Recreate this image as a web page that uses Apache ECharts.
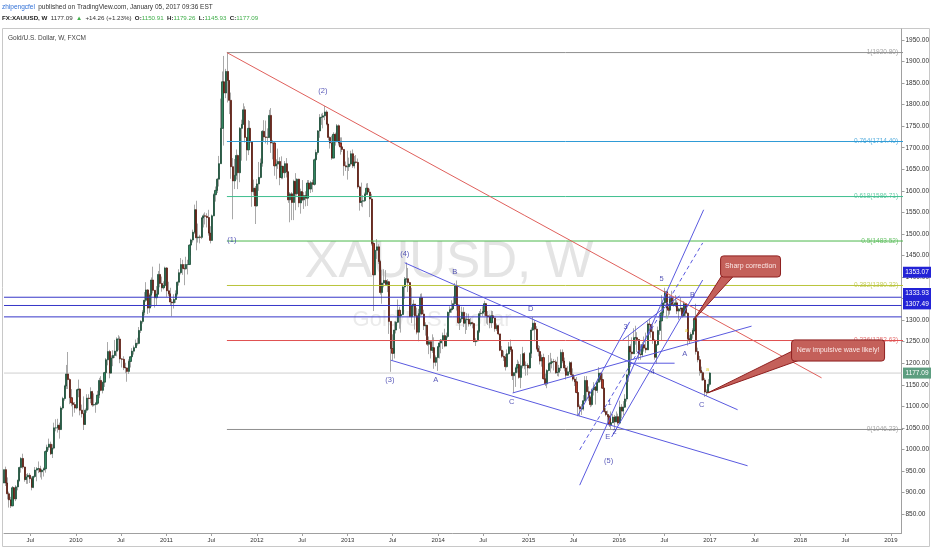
<!DOCTYPE html>
<html><head><meta charset="utf-8">
<script src="https://cdn.jsdelivr.net/npm/echarts@6/dist/echarts.min.js"></script>
<style>html,body{margin:0;padding:0;background:#fff}#c{width:932px;height:550px}</style>
</head><body><div id="c"></div>
<script>
// ---------- DATA (weekly FX:XAUUSD bars, first week starting 2009-03-16) ----------
const firstWeek = [2009, 2, 16];
const firstOpen = 922;
const closes = [
// 2009
953,922,897,883,869,911,885,913,928,958,979,959,930,936,940,932,912,937,952,955,955,948,952,955,995,1005,1012,990,1003,1050,1050,1056,1046,1096,1118,1147,1175,1162,1120,1108,1104,1096,
// 2010
1138,1140,1091,1083,1058,1091,1119,1118,1134,1103,1104,1107,1126,1160,1137,1156,1178,1208,1227,1177,1212,1218,1228,1256,1256,1210,1209,1190,1189,1181,1204,1215,1228,1236,1246,1246,1276,1297,1318,1346,1370,1328,1358,1393,1369,1352,1360,1406,1385,1375,1380,1421,
// 2011
1368,1361,1342,1340,1348,1361,1388,1410,1429,1420,1419,1429,1429,1474,1486,1504,1556,1491,1493,1492,1537,1542,1541,1538,1502,1485,1542,1591,1601,1627,1663,1745,1853,1827,1877,1856,1810,1656,1623,1636,1682,1642,1745,1754,1788,1724,1695,1745,1713,1598,1606,1565,
// 2012
1616,1631,1664,1738,1725,1724,1724,1775,1711,1711,1658,1662,1668,1631,1657,1642,1663,1644,1579,1593,1573,1622,1593,1627,1572,1598,1579,1589,1583,1618,1604,1619,1615,1672,1689,1739,1770,1771,1774,1783,1755,1724,1711,1676,1731,1714,1751,1711,1702,1696,1658,1656,1656,
// 2013
1662,1686,1658,1667,1666,1609,1573,1576,1577,1592,1606,1597,1581,1478,1405,1462,1470,1436,1364,1386,1392,1383,1389,1297,1234,1223,1277,1295,1323,1310,1313,1377,1395,1396,1387,1308,1333,1337,1310,1272,1315,1352,1314,1287,1288,1244,1250,1230,1236,1202,1213,1238,
// 2014
1247,1254,1264,1240,1262,1318,1324,1326,1338,1379,1335,1294,1303,1318,1293,1301,1302,1291,1294,1292,1250,1252,1274,1315,1316,1320,1338,1310,1308,1294,1310,1305,1280,1287,1268,1230,1216,1214,1192,1222,1238,1231,1171,1178,1189,1197,1167,1194,1222,1195,1195,1189,
// 2015
1223,1277,1293,1279,1234,1227,1205,1213,1164,1152,1183,1199,1201,1204,1203,1178,1179,1189,1225,1205,1189,1172,1180,1201,1173,1163,1157,1132,1099,1094,1094,1113,1160,1134,1121,1104,1138,1145,1137,1156,1177,1162,1142,1088,1081,1076,1057,1062,1075,1064,1076,1061,
// 2016
1098,1089,1098,1117,1173,1239,1226,1222,1259,1259,1255,1221,1220,1243,1235,1231,1291,1290,1273,1253,1214,1243,1276,1298,1317,1340,1366,1328,1323,1351,1336,1336,1340,1321,1326,1328,1310,1338,1316,1257,1252,1267,1276,1304,1227,1208,1183,1178,1161,1133,1132,1150.91,
// 2017
1177.09
];
const highs = [
// 2009
963,960,935,902,890,915,913,917,930,960,982,990,960,943,945,945,937,939,959,959,972,962,955,958,998,1011,1025,1018,1012,1062,1070,1071,1062,1100,1122,1150,1196,1226,1165,1140,1112,1110,
// 2010
1140,1162,1142,1104,1123,1095,1128,1128,1144,1136,1130,1110,1136,1166,1170,1157,1180,1212,1249,1231,1218,1230,1254,1260,1265,1262,1212,1216,1201,1190,1209,1216,1235,1241,1255,1259,1284,1300,1323,1365,1388,1372,1362,1399,1424,1370,1379,1414,1431,1401,1390,1424,
// 2011
1423,1389,1375,1349,1360,1369,1390,1418,1444,1440,1430,1447,1440,1476,1489,1510,1568,1577,1524,1498,1539,1547,1550,1548,1556,1518,1545,1594,1610,1630,1681,1814,1877,1913,1883,1920.8,1850,1828,1676,1674,1696,1684,1748,1765,1803,1796,1717,1764,1762,1713,1626,1611,
// 2012
1627,1667,1675,1741,1764,1763,1745,1788,1792,1718,1714,1673,1698,1678,1680,1653,1669,1676,1645,1597,1597,1626,1641,1629,1628,1605,1625,1597,1599,1625,1625,1623,1626,1675,1696,1741,1778,1779,1781,1797,1787,1755,1726,1728,1736,1735,1755,1754,1724,1724,1697,1668,1693,
// 2013
1677,1693,1696,1681,1683,1675,1612,1619,1590,1596,1617,1618,1605,1593,1484,1478,1488,1476,1440,1417,1418,1416,1395,1391,1297,1267,1297,1298,1348,1331,1318,1380,1400,1434,1421,1389,1375,1347,1337,1329,1326,1361,1362,1324,1295,1285,1262,1251,1267,1260,1218,1240,
// 2014
1254,1256,1271,1280,1271,1320,1332,1346,1355,1386,1392,1335,1306,1331,1330,1306,1316,1315,1305,1296,1294,1258,1277,1321,1326,1332,1345,1338,1321,1313,1322,1321,1304,1292,1289,1267,1240,1229,1221,1232,1249,1255,1232,1178,1192,1208,1204,1221,1238,1226,1204,1200,
// 2015
1225,1283,1307,1300,1286,1242,1240,1220,1222,1176,1186,1219,1224,1211,1210,1208,1215,1196,1232,1232,1213,1196,1193,1205,1204,1188,1170,1168,1131,1104,1105,1126,1170,1170,1146,1125,1141,1156,1147,1164,1191,1178,1177,1143,1096,1090,1080,1088,1082,1080,1088,1083,
// 2016
1113,1105,1112,1128,1174,1263,1244,1260,1281,1287,1272,1252,1244,1249,1262,1271,1297,1304,1290,1290,1256,1244,1285,1316,1358,1341,1375,1368,1338,1357,1368,1353,1358,1346,1329,1352,1329,1344,1339,1318,1265,1272,1281,1308,1338,1236,1217,1192,1181,1166,1139,1163,
// 2017
1179.26
];
const lows = [
// 2009
887,915,884,865,864,868,880,880,905,925,946,955,925,920,920,922,905,910,934,926,945,935,930,937,946,988,998,987,980,1000,1042,1039,1025,1045,1092,1113,1140,1140,1105,1100,1076,1085,
// 2010
1093,1121,1079,1074,1045,1057,1085,1092,1107,1099,1100,1085,1103,1119,1135,1130,1145,1164,1195,1165,1185,1193,1212,1216,1230,1200,1190,1184,1177,1157,1175,1190,1214,1220,1236,1241,1244,1270,1292,1311,1342,1314,1317,1331,1362,1329,1334,1362,1376,1366,1371,1375,
// 2011
1354,1356,1334,1309,1327,1340,1357,1380,1406,1405,1381,1417,1406,1428,1450,1480,1500,1462,1480,1478,1488,1515,1522,1515,1496,1478,1484,1541,1575,1595,1610,1688,1756,1705,1815,1805,1778,1628,1534,1604,1626,1604,1620,1670,1755,1712,1670,1683,1700,1563,1589,1523,
// 2012
1563,1600,1629,1656,1716,1710,1707,1722,1688,1673,1635,1627,1651,1613,1627,1627,1630,1631,1572,1527,1532,1532,1555,1589,1562,1547,1576,1558,1564,1565,1584,1595,1597,1612,1647,1684,1723,1753,1745,1764,1752,1717,1698,1672,1679,1705,1713,1705,1684,1690,1635,1646,1626,
// 2013
1646,1657,1653,1652,1663,1605,1554,1564,1562,1574,1591,1590,1539,1473,1321,1405,1442,1430,1359,1338,1376,1381,1365,1268,1180,1207,1211,1269,1293,1280,1271,1314,1349,1387,1365,1307,1293,1311,1278,1267,1251,1310,1311,1277,1264,1240,1221,1211,1224,1187,1193,1182,
// 2014
1211,1223,1233,1237,1239,1258,1310,1317,1331,1335,1322,1291,1277,1296,1284,1268,1277,1285,1286,1281,1249,1240,1250,1270,1308,1309,1310,1292,1289,1281,1282,1293,1273,1275,1265,1228,1212,1205,1183,1190,1220,1226,1161,1131,1145,1178,1164,1142,1188,1186,1171,1172,
// 2015
1187,1212,1275,1251,1230,1216,1197,1192,1162,1147,1142,1181,1178,1188,1183,1175,1170,1169,1182,1200,1181,1162,1171,1175,1168,1158,1147,1130,1077,1077,1080,1090,1111,1117,1112,1098,1100,1125,1104,1131,1155,1157,1140,1085,1077,1062,1052,1046.23,1061,1046.5,1063,1057,
// 2016
1061,1072,1079,1096,1111,1157,1191,1208,1226,1243,1226,1208,1208,1214,1227,1224,1235,1266,1259,1245,1208,1199,1240,1266,1252,1310,1334,1309,1310,1313,1334,1331,1330,1314,1301,1320,1306,1308,1309,1241,1247,1252,1257,1273,1220,1202,1171,1160,1159,1122,1124,1132,
// 2017
1145.93
];

// Fibonacci retracement drawn from the 2011 high
const fibRatios = ['1', '0.764', '0.618', '0.5', '0.382', '0.236', '0'];
const fibPrices = [1920.80, 1714.40, 1586.71, 1483.52, 1380.32, 1252.63, 1046.23];
const fibStartYear = 2011.667;

// Horizontal levels
const levelPrices = [1353.07, 1333.93, 1307.49];
const lastPrice = 1177.09;

// Trend lines [year1, price1, year2, price2]
const redLine = [2011.667, 1920.8, 2018.234, 1166];
const blueLines = [
  [2013.631, 1433, 2017.307, 1092],
  [2013.477, 1207, 2017.417, 962],
  [2014.823, 1131, 2017.461, 1286],
  [2016.115, 1200, 2016.611, 1200],
  [2015.563, 917, 2016.932, 1556],
  [2015.916, 1029, 2016.921, 1393],
  [2015.541, 1078, 2016.115, 1296],
  [2016.037, 1254, 2016.666, 1356]
];
const dashedLine = [2015.563, 999, 2016.921, 1479];

// Elliott wave labels [text, year, price]
const waveLabels = [
  ['(1)', 2011.722, 1486], ['(2)', 2012.726, 1832], ['(3)', 2013.466, 1161], ['(4)', 2013.631, 1453], ['(5)', 2015.883, 973],
  ['A', 2013.974, 1161], ['B', 2014.183, 1412], ['C', 2014.812, 1110], ['D', 2015.022, 1326], ['E', 2015.872, 1029],
  ['1', 2015.894, 1108], ['2', 2015.949, 1040], ['3', 2016.07, 1284], ['4', 2016.369, 1180], ['5', 2016.468, 1395],
  ['A', 2016.722, 1221], ['B', 2016.81, 1358], ['C', 2016.91, 1103]
];
const tinyLabels = [['a', 2016.744, 1275, '#d9c400'], ['a', 2016.976, 1186, '#d9c400'], ['ii', 2016.524, 1305, '#7cc35a']];

// Callouts [text, boxYear1, boxPrice1, boxYear2, boxPrice2, tipYear, tipPrice]
const callouts = [
  ['Sharp correction', 2017.119, 1449, 2017.781, 1400, 2016.821, 1300],
  ['New impulsive wave likely!', 2017.903, 1254, 2018.93, 1205, 2016.976, 1131]
];

const yTicks = [850,900,950,1000,1050,1100,1150,1200,1250,1300,1350,1400,1450,1500,1550,1600,1650,1700,1750,1800,1850,1900,1950];

// ---------- CHART ----------
const DAY = 864e5;
const yr = v => Date.UTC(2010, 0, 1) + (v - 2010) * 365.25 * DAY;
const week0 = Date.UTC(firstWeek[0], firstWeek[1], firstWeek[2]);
const X0 = yr(2009.2053), X1 = yr(2019.117);
const FONT = 'Liberation Sans, Arial, sans-serif';

const wickData = [], bodyData = [];
closes.forEach((c, i) => {
  const o = i === 0 ? firstOpen : closes[i - 1];
  const t = week0 + i * 7 * DAY;
  const h = Math.max(highs[i], o, c), l = Math.min(lows[i], o, c);
  wickData.push([t, o, c, l, h]);
  bodyData.push([t, o, c, Math.min(o, c), Math.max(o, c)]);
});

const xTicks = [];
for (let y = 2009; y <= 2019; y++) {
  [Date.UTC(y, 0, 1), Date.UTC(y, 6, 1)].forEach(t => { if (t >= X0 && t <= X1) xTicks.push(t); });
}

const seg = (arr, color, type, z) => ({
  type: 'line', silent: true, symbol: 'none', z: z || 4, animation: false,
  data: [[yr(arr[0]), arr[1]], [yr(arr[2]), arr[3]]],
  lineStyle: { color, width: 1, type: type || 'solid' }
});

const series = [];
series.push({ type: 'line', silent: true, symbol: 'none', z: 1, data: [[X0, lastPrice], [X1, lastPrice]], lineStyle: { color: '#cfcfcf', width: 1 } });
series.push({
  type: 'candlestick', z: 2, barWidth: 0.4, encode: { x: 0, y: [1, 2, 3, 4] }, data: wickData, silent: true,
  itemStyle: { color: '#a9a9a9', color0: '#a9a9a9', borderColor: '#a9a9a9', borderColor0: '#a9a9a9', borderWidth: 1 }
});
series.push({
  type: 'candlestick', z: 3, barWidth: 1.6, encode: { x: 0, y: [1, 2, 3, 4] }, data: bodyData, silent: true,
  itemStyle: { color: '#2f8760', color0: '#b23a28', borderColor: '#1c4a36', borderColor0: '#541a10', borderWidth: 0.8 }
});
const fibColors = ['#8f8f8f', '#2f9bd6', '#3fbf8f', '#4cb84c', '#b9c43a', '#e05050', '#8f8f8f'];
fibPrices.forEach((p, i) => series.push(seg([fibStartYear, p, 2019.2, p], fibColors[i], 'solid', 4)));
levelPrices.forEach(p => series.push({ type: 'line', silent: true, symbol: 'none', z: 4, data: [[X0, p], [X1, p]], lineStyle: { color: '#3636c8', width: 1 } }));
series.push(seg(redLine, '#e0605c'));
blueLines.forEach(l => series.push(seg(l, '#5a5ae0')));
series.push(seg(dashedLine, '#5a5ae0', [4, 3]));

const labelData = [];
fibPrices.forEach((p, i) => labelData.push({
  value: [yr(2019.085), p],
  label: { show: true, position: 'left', distance: 0, formatter: fibRatios[i] + '(' + p.toFixed(2) + ')', color: fibColors[i], fontSize: 6.5, fontFamily: FONT }
}));
waveLabels.forEach(w => labelData.push({
  value: [yr(w[1]), w[2]],
  label: { show: true, position: 'inside', formatter: w[0], color: '#2a2aa5', fontSize: 7.5, fontFamily: FONT }
}));
tinyLabels.forEach(w => labelData.push({
  value: [yr(w[1]), w[2]],
  label: { show: true, position: 'inside', formatter: w[0], color: w[3], fontSize: 5.5, fontFamily: FONT }
}));
series.push({ type: 'scatter', silent: true, z: 6, symbolSize: 1, itemStyle: { color: 'rgba(0,0,0,0)' }, data: labelData });

const chart = echarts.init(document.getElementById('c'), null, { renderer: 'canvas' });
chart.setOption({
  animation: false,
  backgroundColor: '#ffffff',
  grid: { left: 4, right: 30, top: 29, bottom: 17 },
  xAxis: {
    type: 'value', min: X0, max: X1, splitLine: { show: false },
    axisLine: { show: true, lineStyle: { color: '#a0a0a0' } },
    axisTick: { show: true, customValues: xTicks, length: 3, lineStyle: { color: '#a0a0a0' } },
    axisLabel: {
      customValues: xTicks, fontSize: 6, color: '#333', margin: 4, fontFamily: FONT,
      formatter: v => { const d = new Date(v); return d.getUTCMonth() === 0 ? String(d.getUTCFullYear()) : 'Jul'; }
    }
  },
  yAxis: {
    type: 'value', position: 'right', min: 806, max: 1975.5, splitLine: { show: false },
    axisLine: { show: true, lineStyle: { color: '#a0a0a0' } },
    axisTick: { show: true, customValues: yTicks, length: 3, lineStyle: { color: '#a0a0a0' } },
    axisLabel: { customValues: yTicks, fontSize: 6.5, color: '#333', margin: 4, fontFamily: FONT, formatter: v => v.toFixed(2) }
  },
  series
});

const P = (y, p) => chart.convertToPixel({ gridIndex: 0 }, [yr(y), p]);
const g = [];
g.push({ type: 'rect', z: -1, shape: { x: 2.5, y: 28.5, width: 927, height: 518 }, style: { fill: 'none', stroke: '#c8c8c8', lineWidth: 1 } });
g.push({ type: 'text', z: 0, x: 449, y: 263, style: { text: 'XAUUSD, W', font: '51px ' + FONT, fill: '#e4e4e4', align: 'center', verticalAlign: 'middle' } });
g.push({ type: 'text', z: 0, x: 432, y: 320, style: { text: 'Gold/U.S. Dollar', font: '22px ' + FONT, fill: '#ebebeb', align: 'center', verticalAlign: 'middle' } });
g.push({ type: 'text', z: 50, x: 8, y: 38, style: { text: 'Gold/U.S. Dollar, W, FXCM', font: '6.5px ' + FONT, fill: '#444', verticalAlign: 'middle' } });
g.push({ type: 'text', z: 50, x: 2, y: 7, style: {
  text: '{u|zhipengcfel} {n|published on TradingView.com, January 05, 2017 09:36 EST}', verticalAlign: 'middle',
  rich: { u: { fill: '#2f6fd6', font: '6.5px ' + FONT }, n: { fill: '#333', font: '6.5px ' + FONT } } } });
g.push({ type: 'text', z: 50, x: 2, y: 18, style: {
  text: '{b|FX:XAUUSD, W} {n|1177.09} {g|▲} {n|+14.26 (+1.23%)} {b|O:}{g|1150.91} {b|H:}{g|1179.26} {b|L:}{g|1145.93} {b|C:}{g|1177.09}', verticalAlign: 'middle',
  rich: { b: { fill: '#222', font: 'bold 6.2px ' + FONT }, n: { fill: '#333', font: '6.2px ' + FONT }, g: { fill: '#3fae49', font: '6.2px ' + FONT } } } });

callouts.forEach((c, k) => {
  const a = P(c[1], c[2]), b = P(c[3], c[4]), tip = P(c[5], c[6]);
  const bx = a[0], by = a[1], bw = b[0] - a[0], bh = b[1] - a[1];
  const base = k === 0 ? [[bx + 1, by + bh - 1], [bx + 13, by + bh - 1]] : [[bx + 1, by + 11], [bx + 8, by + bh - 1]];
  g.push({ type: 'polygon', z: 60, shape: { points: [base[0], base[1], tip] }, style: { fill: '#c4605a', stroke: '#8e1f1f', lineWidth: 1 } });
  g.push({ type: 'rect', z: 61, shape: { x: bx, y: by, width: bw, height: bh, r: 3 }, style: { fill: '#c4605a', stroke: '#8e1f1f', lineWidth: 1 } });
  g.push({ type: 'text', z: 62, x: bx + bw / 2, y: by + bh / 2, style: { text: c[0], font: '7px ' + FONT, fill: '#fbe9e7', align: 'center', verticalAlign: 'middle' } });
});

const tags = [[levelPrices[0], -25, '#2323d6'], [levelPrices[1], -12, '#2323d6'], [levelPrices[2], -13, '#2323d6'], [lastPrice, 0, '#5d9e80']];
tags.forEach(t => {
  const y = chart.convertToPixel({ yAxisIndex: 0 }, t[0]) + t[1];
  g.push({ type: 'rect', z: 70, shape: { x: 903, y: y - 5.5, width: 28, height: 11 }, style: { fill: t[2] } });
  g.push({ type: 'text', z: 71, x: 917, y: y, style: { text: t[0].toFixed(2), font: '6.5px ' + FONT, fill: '#fff', align: 'center', verticalAlign: 'middle' } });
});
chart.setOption({ graphic: g });
</script></body></html>
